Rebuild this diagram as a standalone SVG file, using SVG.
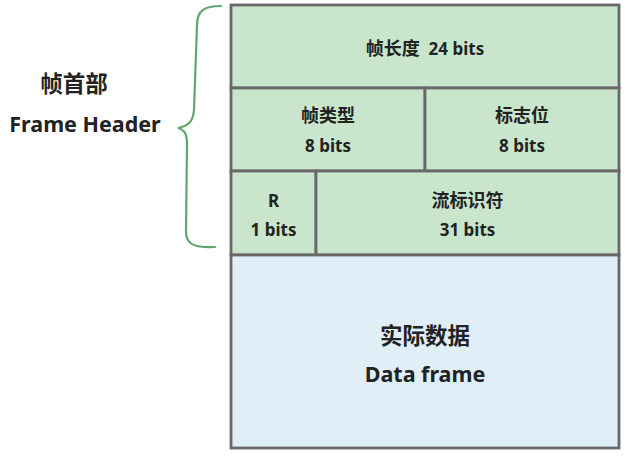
<svg xmlns="http://www.w3.org/2000/svg" width="626" height="457" viewBox="0 0 626 457">
<style>
.hdr{fill:#c9e6cd;stroke:#686868;stroke-width:2.8}
.dat{fill:#e0eef8;stroke:#686868;stroke-width:2.8}
text{font-family:"Noto Sans","Noto Sans CJK SC",sans-serif;font-weight:bold;fill:#222;text-anchor:middle}
.s{font-size:17px}
.sc{font-size:18px}
.l{font-size:21.5px}
.lc{font-size:22.5px}
</style>
<rect width="626" height="457" fill="#fff"/>
<g id="len"><rect class="hdr" x="231" y="5" width="388" height="83"/><text x="425" y="55"><tspan class="sc">帧长度</tspan><tspan class="s">&#160; 24 bits</tspan></text></g>
<g id="type"><rect class="hdr" x="231" y="88" width="194" height="83"/><text class="sc" x="328" y="122">帧类型</text><text class="s" x="328" y="152">8 bits</text></g>
<g id="flag"><rect class="hdr" x="425" y="88" width="194" height="83"/><text class="sc" x="522" y="122">标志位</text><text class="s" x="522" y="152">8 bits</text></g>
<g id="r"><rect class="hdr" x="231" y="171" width="85" height="84"/><text class="s" x="273.5" y="207">R</text><text class="s" x="273.5" y="236">1 bits</text></g>
<g id="stream"><rect class="hdr" x="316" y="171" width="303" height="84"/><text class="sc" x="467.5" y="207">流标识符</text><text class="s" x="467.5" y="236">31 bits</text></g>
<g id="data"><rect class="dat" x="231" y="255" width="388" height="193"/><text class="lc" x="425" y="344">实际数据</text><text class="l" x="425" y="382">Data frame</text></g>
<g id="header-label"><text class="lc" x="74" y="92">帧首部</text><text class="l" x="85" y="132">Frame Header</text></g>
<g id="connectors"><path d="M221,6 C205,6 197,10 197,25 L194,110 C193,122 188,126 178,128 C186,130 187,136 187,145 L186,232 C186,244 194,248 215,247" fill="none" stroke="#5fa56e" stroke-width="2.2" stroke-linecap="round"/></g>
</svg>
